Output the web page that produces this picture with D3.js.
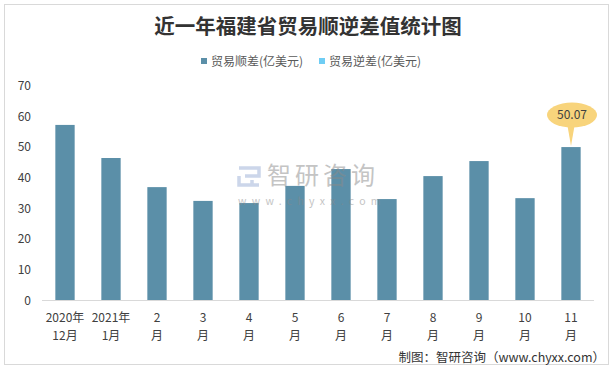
<!DOCTYPE html>
<html>
<head>
<meta charset="utf-8">
<script src="https://cdn.jsdelivr.net/npm/d3@7"></script>
<style>
  body { margin: 0; background: #fff; }
  svg { font-family: "Microsoft YaHei", "Noto Sans CJK SC", sans-serif; }
</style>
</head>
<body>
<div id="chart"></div>
<script>
// data
const months = ["2020年|12月", "2021年|1月", "2|月", "3|月", "4|月", "5|月", "6|月", "7|月", "8|月", "9|月", "10|月", "11|月"];
const surplus = [57.3, 46.5, 37.0, 32.5, 31.8, 37.4, 42.9, 33.1, 40.6, 45.5, 33.4, 50.07];
const yTicks = [0, 10, 20, 30, 40, 50, 60, 70];
const seriesNames = ["贸易顺差(亿美元)", "贸易逆差(亿美元)"];
const seriesColors = ["#5b8fa8", "#6fcdf4"];

const W = 616, H = 370;
const margin = {top: 86, left: 42, right: 22, bottom: 70};

const svg = d3.select("#chart").append("svg")
    .attr("width", W).attr("height", H);

// outer frame
svg.append("rect")
    .attr("x", 4.5).attr("y", 4.5)
    .attr("width", 604).attr("height", 360)
    .attr("fill", "#fff").attr("stroke", "#d9d9d9");

const x = d3.scaleBand()
    .domain(months)
    .range([margin.left, W - margin.right])
    .paddingInner(0.58).paddingOuter(0.29);

const y = d3.scaleLinear()
    .domain([0, 70])
    .range([300.5, 86]);

// title
svg.append("text")
    .attr("x", 308).attr("y", 34)
    .attr("text-anchor", "middle")
    .attr("font-size", 20.5).attr("font-weight", "bold")
    .attr("fill", "#333")
    .text("近一年福建省贸易顺逆差值统计图");

// legend
const legend = svg.append("g").attr("font-size", 12);
const legendX = [201, 319];
seriesNames.forEach((name, i) => {
    legend.append("rect")
        .attr("x", legendX[i]).attr("y", 58)
        .attr("width", 6).attr("height", 6)
        .attr("fill", seriesColors[i]);
    legend.append("text")
        .attr("x", legendX[i] + 10).attr("y", 66)
        .attr("fill", "#595959")
        .text(name);
});

// y tick labels (no axis line)
svg.append("g")
    .selectAll("text")
    .data(yTicks)
    .join("text")
    .attr("x", 31).attr("y", d => y(d) + 4)
    .attr("text-anchor", "end")
    .attr("font-size", 12).attr("fill", "#404040")
    .text(d => d);

// bars
svg.append("g")
    .selectAll("rect")
    .data(surplus)
    .join("rect")
    .attr("x", (d, i) => x(months[i]))
    .attr("y", d => y(d))
    .attr("width", x.bandwidth())
    .attr("height", d => y(0) - y(d))
    .attr("fill", seriesColors[0]);

// watermark, drawn over the bars but faint
const wm = svg.append("g").attr("opacity", 0.5);
wm.append("path")
    .attr("d", "M239,168 h20 v8 h-14 M239,176 v9 h20 M252,180 v5")
    .attr("fill", "none").attr("stroke", "#9aaed6").attr("stroke-width", 3.5);
wm.append("text").attr("x", 267).attr("y", 184)
    .attr("font-size", 24).attr("fill", "#8a8a8a").attr("letter-spacing", 4)
    .text("智研咨询");
wm.append("text").attr("x", 238).attr("y", 205)
    .attr("font-size", 10.5).attr("fill", "#8a8a8a").attr("letter-spacing", 5.3)
    .text("www.chyxx.com");

// x axis line
svg.append("line")
    .attr("x1", margin.left).attr("x2", W - margin.right)
    .attr("y1", 300.5).attr("y2", 300.5)
    .attr("stroke", "#d9d9d9");

// x labels, two lines each
const xl = svg.append("g").attr("font-size", 12).attr("fill", "#404040");
months.forEach(m => {
    const parts = m.split("|");
    const cx = x(m) + x.bandwidth() / 2;
    parts.forEach((p, j) => {
        xl.append("text")
            .attr("x", cx).attr("y", 322 + j * 18)
            .attr("text-anchor", "middle")
            .text(p);
    });
});

// callout for the last bar
const last = surplus.length - 1;
const lx = x(months[last]) + x.bandwidth() / 2;
const ly = y(surplus[last]);
const callout = svg.append("g");
callout.append("path")
    .attr("d", `M${lx - 4},${ly - 24} L${lx},${ly - 1} L${lx + 4},${ly - 24} Z`)
    .attr("fill", "#f8d47c");
callout.append("ellipse")
    .attr("cx", lx + 1).attr("cy", ly - 32)
    .attr("rx", 25).attr("ry", 12.5)
    .attr("fill", "#f8d47c");
callout.append("text")
    .attr("x", lx + 1).attr("y", ly - 28)
    .attr("text-anchor", "middle")
    .attr("font-size", 12).attr("fill", "#404040")
    .text(surplus[last].toFixed(2));

// source note
svg.append("text")
    .attr("x", 605).attr("y", 362)
    .attr("text-anchor", "end")
    .attr("font-size", 12.5).attr("fill", "#333")
    .text("制图：智研咨询（www.chyxx.com）");
</script>
</body>
</html>
